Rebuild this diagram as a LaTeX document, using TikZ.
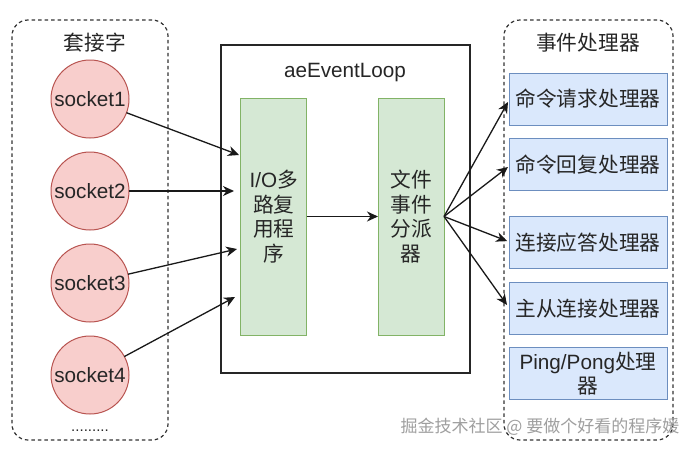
\documentclass[tikz,border=0pt]{standalone}
\usepackage{fontspec}
\setmainfont{Liberation Sans}
\newfontfamily\cjk{Noto Sans CJK SC}
\usetikzlibrary{arrows.meta,calc}
\definecolor{sockfill}{HTML}{F8CECC}
\definecolor{sockdraw}{HTML}{B85450}
\definecolor{grnfill}{HTML}{D5E8D4}
\definecolor{grndraw}{HTML}{82B366}
\definecolor{blufill}{HTML}{DAE8FC}
\definecolor{bludraw}{HTML}{6C8EBF}
\begin{document}
\begin{tikzpicture}[x=1pt,y=-1pt,
  every node/.style={inner sep=0pt, outer sep=0pt},
  txt/.style={font=\fontsize{20.7}{25}\selectfont, text=black!85},
  zh/.style={font=\fontsize{20.7}{24.5}\selectfont\cjk, text=black!85},
  group/.style={draw=black!80, line width=1.2pt, dash pattern=on 3.5pt off 3pt, rounded corners=16pt},
  sock/.style={circle, draw=sockdraw, fill=sockfill, line width=1pt, minimum size=78pt, txt},
  proc/.style={draw=grndraw, fill=grnfill, line width=1pt, minimum width=66pt, minimum height=237pt, align=center},
  handler/.style={draw=bludraw, fill=blufill, line width=1pt, minimum width=158pt, minimum height=52pt, zh, align=center},
  arr/.style={draw=black!90, line width=1.3pt, -{Stealth[length=11pt,width=10pt,inset=3.5pt]}},
]
\useasboundingbox[fill=white] (0,0) rectangle (687,450);

% left group: sockets
\node[group, minimum width=156pt, minimum height=420pt] (sockets) at (90,230) {};
\node[zh] (socktitle) at (95,43) {套接字};
\node[sock] (s1) at (90,99) {socket1};
\node[sock] (s2) at (90,191) {socket2};
\node[sock] (s3) at (90,283) {socket3};
\node[sock] (s4) at (90,375) {socket4};
\node[font=\fontsize{15}{18}\selectfont, text=black!85] (dots) at (90,431) {.........};

% event loop
\node[draw=black!85, line width=1.4pt, minimum width=249pt, minimum height=328pt] (loop) at (345.5,209) {};
\node[txt] (looptitle) at (345,73) {aeEventLoop};
\node[proc, zh] (io) at (273.7,216.5) {{\fontspec{Liberation Sans}I/O}多\\路复\\用程\\序};
\node[proc, zh] (disp) at (411,216.5) {文件\\事件\\分派\\器};

% right group: handlers
\node[group, minimum width=169pt, minimum height=420pt] (handlers) at (588.5,230) {};
\node[zh] (handtitle) at (588,43) {事件处理器};
\node[handler] (h1) at (588,99) {命令请求处理器};
\node[handler] (h2) at (588,164.5) {命令回复处理器};
\node[handler] (h3) at (588,242.5) {连接应答处理器};
\node[handler] (h4) at (588,308.5) {主从连接处理器};
\node[handler] (h5) at (588,373.5) {{\fontspec{Liberation Sans}Ping/Pong}处理\\器};

% connectors
\coordinate (t1) at (239,155);
\coordinate (t2) at (234,191);
\coordinate (t3) at (237,249);
\coordinate (t4) at (235,297);
\draw[arr] (s1) -- (t1);
\draw[arr] (s2) -- (t2);
\draw[arr] (s3) -- (t3);
\draw[arr] (s4) -- (t4);
\draw[arr] (io.east) -- (disp.west);
\draw[arr] (disp.east) -- ([xshift=-1pt,yshift=-3pt]h1.west);
\draw[arr] (disp.east) -- ([xshift=-1pt,yshift=-2.5pt]h2.west);
\draw[arr] (disp.east) -- ([xshift=-2pt,yshift=1.5pt]h3.west);
\draw[arr] (disp.east) -- ([xshift=-2pt,yshift=3.5pt]h4.west);

% watermark
\node[font=\fontsize{17}{20}\selectfont\cjk, text=gray!75] (wm) at (540,427) {掘金技术社区 @ 要做个好看的程序媛};
\end{tikzpicture}
\end{document}
